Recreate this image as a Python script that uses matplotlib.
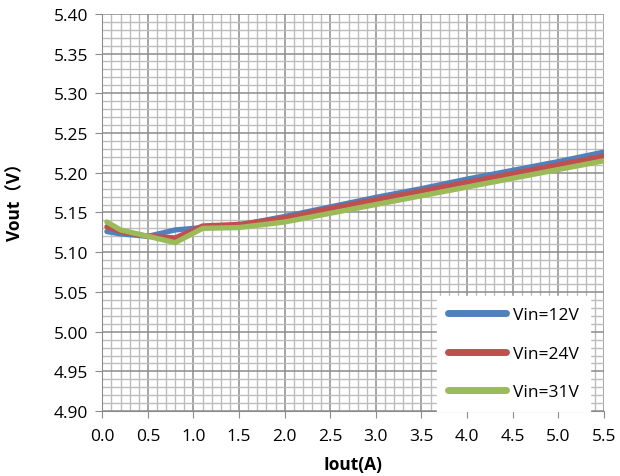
import numpy as np
import matplotlib
matplotlib.use("Agg")
import matplotlib.pyplot as plt
from matplotlib.ticker import MultipleLocator, FormatStrFormatter

plt.rcParams['font.family'] = ['Open Sans', 'Noto Sans CJK SC', 'DejaVu Sans']

iout = [0.05, 0.2, 0.5, 0.8, 1.1, 1.5, 2.0, 2.5, 3.0, 3.5, 4.0, 4.5, 5.0, 5.5]
vout_12v = [5.126, 5.123, 5.120, 5.128, 5.131, 5.134, 5.145, 5.157, 5.169, 5.180, 5.192, 5.203, 5.214, 5.226]
vout_24v = [5.132, 5.126, 5.120, 5.118, 5.133, 5.135, 5.143, 5.155, 5.166, 5.177, 5.188, 5.199, 5.210, 5.221]
vout_31v = [5.138, 5.128, 5.120, 5.112, 5.130, 5.131, 5.138, 5.149, 5.160, 5.171, 5.182, 5.193, 5.204, 5.215]
labels = ["Vin=12V", "Vin=24V", "Vin=31V"]
colors = ["#4F81BD", "#C0504D", "#9BBB59"]

fig = plt.figure(figsize=(6.2, 4.77), dpi=100)
ax = fig.add_axes([0.165, 0.136, 0.809, 0.833])

for y, lab, c in zip([vout_12v, vout_24v, vout_31v], labels, colors):
    ax.plot(iout, y, color=c, lw=3.8, label=lab, solid_capstyle='round')

ax.set_xlim(0, 5.5)
ax.set_ylim(4.90, 5.40)
ax.xaxis.set_major_locator(MultipleLocator(0.5))
ax.xaxis.set_minor_locator(MultipleLocator(0.1))
ax.yaxis.set_major_locator(MultipleLocator(0.05))
ax.yaxis.set_minor_locator(MultipleLocator(0.01))
ax.xaxis.set_major_formatter(FormatStrFormatter('%.1f'))
ax.yaxis.set_major_formatter(FormatStrFormatter('%.2f'))
ax.grid(which='major', color='#8c8c8c', lw=1.1)
ax.grid(which='minor', color='#bdbdbd', lw=1.0)
ax.set_axisbelow(True)
ax.tick_params(which='major', direction='out', length=5, color='#8c8c8c', labelsize=12.5)
ax.tick_params(axis='x', which='major', pad=7)
ax.tick_params(axis='y', which='major', pad=5)
ax.tick_params(which='minor', length=0)
for s in ['top', 'right']:
    ax.spines[s].set_visible(False)
for s in ['left', 'bottom']:
    ax.spines[s].set_color('#8c8c8c')

ax.set_xlabel("Iout(A)", fontsize=12.5, fontweight='bold', labelpad=8)
ax.set_ylabel("Vout（V）", fontsize=12.5, fontweight='bold')
ax.yaxis.set_label_coords(-0.155, 0.54)

leg = ax.legend(loc='lower right', bbox_to_anchor=(0.972, 0.0), borderaxespad=0,
                frameon=True, fancybox=False, edgecolor='white', framealpha=1.0,
                fontsize=12.5, handlelength=3.3, labelspacing=1.27,
                borderpad=0.65, handletextpad=0.4)
for line in leg.get_lines():
    line.set_linewidth(5)

fig.savefig("out.png", dpi=100)
